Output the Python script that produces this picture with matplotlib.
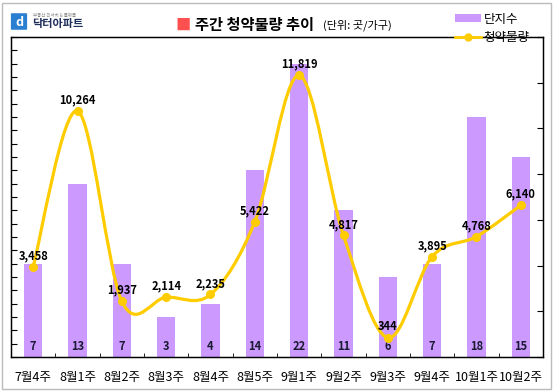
import matplotlib
matplotlib.use('Agg')
import matplotlib.pyplot as plt
from matplotlib.path import Path
from matplotlib.patches import PathPatch, Rectangle, FancyBboxPatch
from matplotlib.lines import Line2D
from matplotlib.patches import Patch
import numpy as np

plt.rcParams['font.family'] = ['Noto Sans CJK KR', 'DejaVu Sans']

weeks = ['7월4주', '8월1주', '8월2주', '8월3주', '8월4주', '8월5주',
         '9월1주', '9월2주', '9월3주', '9월4주', '10월1주', '10월2주']
complexes = [7, 13, 7, 3, 4, 14, 22, 11, 6, 7, 18, 15]
supply = [3458, 10264, 1937, 2114, 2235, 5422, 11819, 4817, 344, 3895, 4768, 6140]

bar_color = '#CC99FF'
line_color = '#FFCC00'


def smooth_path(xs, ys):
    # excel-style smoothed line: cubic bezier segments through every point
    pts = np.column_stack([xs, ys]).astype(float)
    n = len(pts)
    verts = [pts[0]]
    codes = [Path.MOVETO]
    for i in range(n - 1):
        p0 = pts[i - 1] if i > 0 else pts[i]
        p1 = pts[i]
        p2 = pts[i + 1]
        p3 = pts[i + 2] if i + 2 < n else pts[i + 1]
        c1 = p1 + (p2 - p0) / 6.0
        c2 = p2 - (p3 - p1) / 6.0
        verts += [c1, c2, p2]
        codes += [Path.CURVE4] * 3
    return Path(verts, codes)


fig = plt.figure(figsize=(5.54, 3.91), dpi=100)
ax = fig.add_axes([11 / 554, 1 - 357 / 391, 532 / 554, 320 / 391])
ax2 = ax.twinx()

x = np.arange(len(weeks))
ax.bar(x, complexes, width=0.41, color=bar_color, zorder=1)
for xi, v in zip(x, complexes):
    ax.text(xi, 0.75, str(v), ha='center', va='center', fontsize=8,
            fontweight='bold', color='#1a1a33')

ax.set_xlim(-0.5, len(weeks) - 0.5)
ax.set_ylim(0, 24)
ax.set_yticks(np.arange(0, 25, 1))
ax.set_yticklabels([])
ax.set_xticks(x)
ax.set_xticklabels(weeks, fontsize=9)
ax.set_xticks(np.arange(-0.5, len(weeks), 1), minor=True)
ax.tick_params(axis='x', which='major', length=0, pad=10)
ax.tick_params(axis='x', which='minor', length=3, direction='in')
ax.tick_params(axis='y', length=4, direction='in', width=0.8)

ax2.set_ylim(-500, 13500)
ax2.set_yticks(np.arange(-500, 13501, 2000))
ax2.set_yticklabels([])
ax2.tick_params(axis='y', length=4, direction='in', width=0.8)

ax2.add_patch(PathPatch(smooth_path(x, supply), facecolor='none',
                        edgecolor=line_color, lw=2.3, zorder=3))
ax2.plot(x, supply, 'o', color=line_color, ms=5.5, zorder=4)
for xi, v in zip(x, supply):
    ax2.annotate(f'{v:,}', (xi, v), xytext=(0, 8), textcoords='offset points',
                 ha='center', va='center', fontsize=8, fontweight='bold',
                 color='black')

for a in (ax, ax2):
    for s in a.spines.values():
        s.set_color('black')
        s.set_linewidth(0.9)
ax.set_zorder(ax2.get_zorder() - 1)
ax.patch.set_visible(True)
ax2.patch.set_visible(False)

# title
fig.text(183 / 554, 1 - 25 / 391, '■', color='#FF4F4F', fontsize=11,
         ha='center', va='center')
fig.text(195 / 554, 1 - 25 / 391, '주간 청약물량 추이', fontsize=11,
         fontweight='bold', ha='left', va='center')
fig.text(323 / 554, 1 - 25 / 391, '(단위: 곳/가구)', fontsize=8,
         ha='left', va='center')

# logo
fig.patches.append(FancyBboxPatch((12 / 554, 1 - 29 / 391), 14 / 554, 15 / 391,
                                  boxstyle='round,pad=0.002', transform=fig.transFigure,
                                  facecolor='#2a7fd0', edgecolor='none'))
fig.text(19 / 554, 1 - 22 / 391, 'd', color='white', fontsize=9, fontweight='bold',
         ha='center', va='center')
fig.text(33 / 554, 1 - 15 / 391, '부동산 리서치 & 플랫폼', fontsize=3.2,
         color='#888888', ha='left', va='center')
fig.text(32 / 554, 1 - 24 / 391, '닥터아파트', fontsize=8, fontweight='bold',
         color='#1f2f5c', ha='left', va='center')

# legend
handles = [Patch(facecolor=bar_color, edgecolor='none'),
           Line2D([], [], color=line_color, lw=2, marker='o', ms=5)]
fig.legend(handles, ['단지수', '청약물량'], loc='upper left',
           bbox_to_anchor=(446 / 554, 1 - 4 / 391), frameon=False, fontsize=9,
           handlelength=2.1, handleheight=0.6, labelspacing=0.45,
           handletextpad=0.2, borderpad=0.2)

# outer frame
fig.patches.append(Rectangle((2 / 554, 2 / 391), 549 / 554, 386 / 391,
                             transform=fig.transFigure, facecolor='none',
                             edgecolor='#bbbbbb', lw=1))

fig.savefig('out.png', dpi=100)
